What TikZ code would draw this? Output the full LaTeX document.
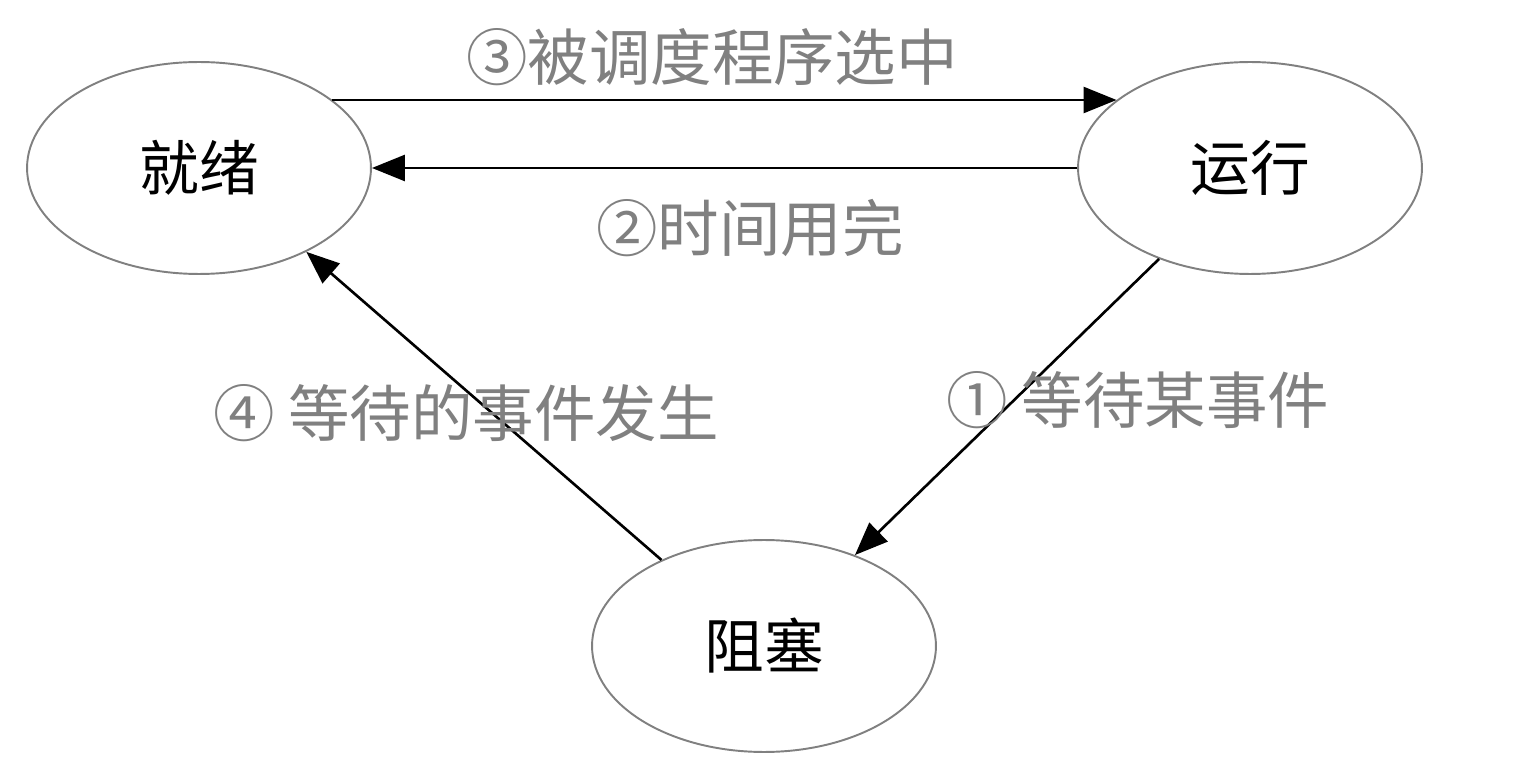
\documentclass[tikz,border=0pt]{standalone}
\usepackage{fontspec}
\setmainfont{Noto Sans CJK SC}
\usetikzlibrary{shapes.geometric}
\usetikzlibrary{arrows.meta}

\tikzset{
  state/.style={ellipse, draw=black!50, line width=1.1pt, minimum width=6.88cm, minimum height=4.24cm,
    inner sep=0pt, font=\fontsize{34}{40}\selectfont},
  trans/.style={line width=1.5pt, -{Triangle[length=0.66cm, width=0.52cm]}},
  tlabel/.style={text=black!50, font=\fontsize{35}{40}\selectfont, inner sep=0pt}
}

\begin{document}
\begin{tikzpicture}[x=0.02cm, y=-0.02cm]
\useasboundingbox (0,0) rectangle (1515,780);

\node[state] (ready) at (199,168) {就绪};
\node[state] (run) at (1250,168) {运行};
\node[state] (block) at (764,646) {阻塞};

\draw[trans] (ready.27) -- (run.153);
\draw[trans] (run.west) -- (ready.east);
\draw[trans] (run.225) -- (block.45);
\draw[trans] (block.140) -- (ready.-38);

\node[tlabel] (l3) at (712,57) {③被调度程序选中};
\node[tlabel] (l2) at (750,228) {②时间用完};
\node[tlabel] (l1) at (1138,400) {① 等待某事件};
\node[tlabel] (l4) at (466,413) {④ 等待的事件发生};

\end{tikzpicture}
\end{document}
